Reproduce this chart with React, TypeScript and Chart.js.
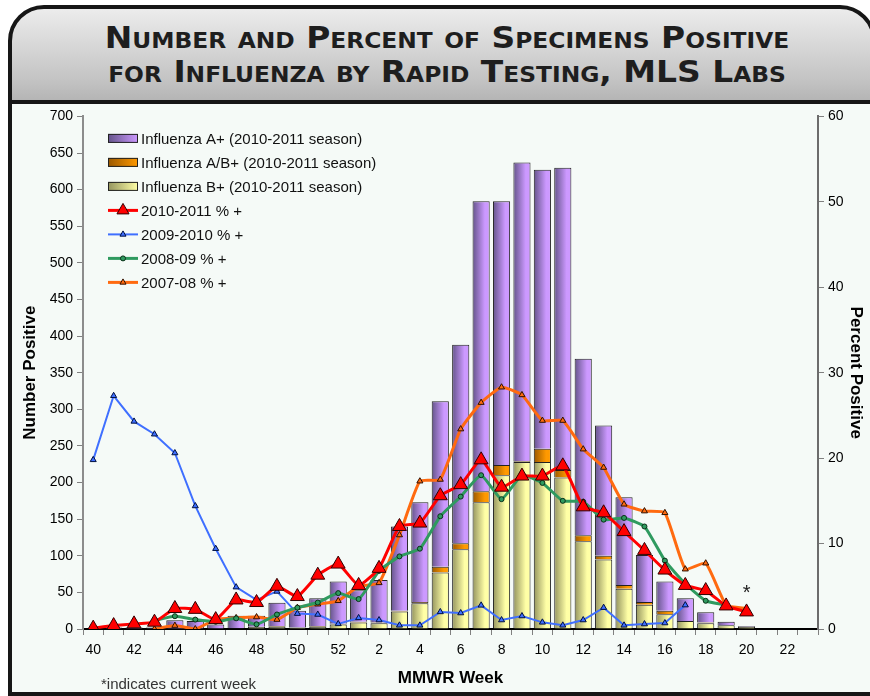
import React, { useEffect, useRef } from 'react';
import { Chart, registerables } from 'chart.js';

Chart.register(...registerables);

// ---------- data ----------
const weeks = ['40','41','42','43','44','45','46','47','48','49','50','51','52','1','2','3','4','5','6','7','8','9','10','11','12','13','14','15','16','17','18','19','20','21','22','23'];

const fluA = [1,2,2,2,12,11,6,17,15,32,23,38,58, 43,58,115,136,226,271,396,360,408,381,413,241,178,120,64,40,31,14,5,1, null,null,null];
const fluAB = [0,0,0,0,0,0,0,0,0,1,0,1,1, 1,1,1,2,8,8,15,14,1,18,10,8,5,5,4,5,0,1,0,0, null,null,null];
const fluB = [0,0,0,0,0,0,0,1,3,3,2,3,6, 9,8,24,35,77,109,173,210,228,228,207,120,95,55,33,20,11,8,5,3, null,null,null];

const pct2010_11 = [0.1,0.4,0.6,0.8,2.4,2.3,1.1,3.4,3.1,5.0,3.8,6.3,7.6, 5.1,7.1,12.0,12.4,15.6,16.9,19.8,16.6,17.9,17.9,19.1,14.3,13.6,11.4,9.2,6.9,5.1,4.5,2.7,2.0, null,null,null];
const pct2009_10 = [19.8,27.3,24.3,22.8,20.6,14.4,9.4,4.9,3.4,4.4,1.8,1.7,0.6, 1.3,1.05,0.43,0.43,2.0,1.87,2.77,1.05,1.52,0.78,0.43,1.05,2.5,0.43,0.58,0.7,2.8, null,null,null,null,null,null];
const pct2008_09 = [null,null,null,1.0,1.5,1.1,0.85,1.25,0.55,1.7,2.5,3.1,4.2, 3.5,6.8,8.5,9.4,13.2,15.5,18.0,15.2,18.0,17.1,15.0,14.9,12.8,13.0,12.0,8.0,5.3,3.3,2.8, null,null,null,null];
const pct2007_08 = [null,null,null,0,0.4,0,1.1,1.3,1.4,1.1,2.5,2.9,3.3, 5.0,5.4,11.0,17.3,17.5,23.4,26.5,28.3,27.4,24.4,24.4,21.05,18.9,14.6,13.8,13.6,7.0,7.7,2.8,2.4, null,null,null];

const currentWeek = '20';

const seriesLabels = [
  'Influenza A+ (2010-2011 season)',
  'Influenza A/B+ (2010-2011 season)',
  'Influenza B+ (2010-2011 season)',
  '2010-2011 % +',
  '2009-2010 % +',
  '2008-09 % +',
  '2007-08 % +',
];

const FONT = '"Liberation Sans", Arial, Helvetica, sans-serif';

const PURPLE = ['#64548a', '#cc99ff'];
const ORANGE = ['#9a5800', '#ff9900'];
const YELLOW = ['#94945e', '#ffffa6'];

const grad = (colors: string[]) => (ctx: any) => {
  const chart = ctx.chart;
  const xs = chart.scales && chart.scales.x;
  if (!chart.chartArea || !xs || ctx.dataIndex == null) return colors[1];
  const x = xs.getPixelForValue(ctx.dataIndex);
  const w = (xs.width / weeks.length) * 0.84;
  const g = chart.ctx.createLinearGradient(x - w / 2, 0, x + w / 2, 0);
  g.addColorStop(0, colors[0]);
  g.addColorStop(0.72, colors[1]);
  g.addColorStop(1, colors[1]);
  return g;
};

function drawMarker(ctx: CanvasRenderingContext2D, style: string, x: number, y: number, r: number, fill: string, stroke: string) {
  ctx.beginPath();
  if (style === 'triangle') {
    let rad = 0;
    const t = (2 * Math.PI) / 3;
    ctx.moveTo(x + Math.sin(rad) * r, y - Math.cos(rad) * r);
    rad += t;
    ctx.lineTo(x + Math.sin(rad) * r, y - Math.cos(rad) * r);
    rad += t;
    ctx.lineTo(x + Math.sin(rad) * r, y - Math.cos(rad) * r);
    ctx.closePath();
  } else {
    ctx.arc(x, y, r, 0, Math.PI * 2);
  }
  ctx.fillStyle = fill;
  ctx.fill();
  ctx.strokeStyle = stroke;
  ctx.lineWidth = 1;
  ctx.stroke();
}

const legendItems = [
  { kind: 'box', colors: PURPLE },
  { kind: 'box', colors: ORANGE },
  { kind: 'box', colors: YELLOW },
  { kind: 'line', color: '#ff0000', width: 3, style: 'triangle', r: 7, fill: '#ff0000', stroke: '#300000' },
  { kind: 'line', color: '#3f6fff', width: 2, style: 'triangle', r: 3.5, fill: '#3f6fff', stroke: '#001040' },
  { kind: 'line', color: '#2f9a5f', width: 3, style: 'circle', r: 2.5, fill: '#2f9a5f', stroke: '#0a3018' },
  { kind: 'line', color: '#ff6a10', width: 3, style: 'triangle', r: 3.5, fill: '#ff6a10', stroke: '#301000' },
];

const overlayPlugin = {
  id: 'overlay',
  afterDraw(chart: any) {
    const { ctx, chartArea } = chart;
    const x0 = chartArea.left + 25;
    const y0 = chartArea.top + 22;
    const step = 24;
    ctx.save();
    ctx.font = `15px ${FONT}`;
    ctx.textBaseline = 'middle';
    ctx.textAlign = 'left';
    legendItems.forEach((item: any, k: number) => {
      const cy = y0 + k * step;
      if (item.kind === 'box') {
        const g = ctx.createLinearGradient(x0, 0, x0 + 30, 0);
        g.addColorStop(0, item.colors[0]);
        g.addColorStop(1, item.colors[1]);
        ctx.fillStyle = g;
        ctx.fillRect(x0, cy - 4.5, 30, 9);
        ctx.strokeStyle = '#222';
        ctx.lineWidth = 1;
        ctx.strokeRect(x0 + 0.5, cy - 4, 29, 8);
      } else {
        ctx.strokeStyle = item.color;
        ctx.lineWidth = item.width;
        ctx.beginPath();
        ctx.moveTo(x0, cy);
        ctx.lineTo(x0 + 30, cy);
        ctx.stroke();
        drawMarker(ctx, item.style, x0 + 15, cy, item.r, item.fill, item.stroke);
      }
      ctx.fillStyle = '#111';
      ctx.fillText(seriesLabels[k], x0 + 33, cy + 1);
    });
    const idx = weeks.indexOf(currentWeek);
    const v = pct2010_11[idx];
    if (v != null) {
      ctx.font = `20px ${FONT}`;
      ctx.textAlign = 'center';
      ctx.fillStyle = '#222';
      ctx.fillText('*', chart.scales.x.getPixelForValue(idx), chart.scales.y1.getPixelForValue(v) - 18);
    }
    ctx.restore();
  },
};

export default function App() {
  const ref = useRef<HTMLCanvasElement>(null);

  useEffect(() => {
    const canvas = ref.current;
    if (!canvas) return;
    Chart.defaults.font.family = FONT;
    Chart.defaults.color = '#000';
    const lineCommon = { type: 'line' as const, yAxisID: 'y1', fill: false, spanGaps: false };
    const chart = new Chart(canvas, {
      type: 'bar',
      data: {
        labels: weeks,
        datasets: [
          { type: 'bar', label: seriesLabels[2], data: fluB, backgroundColor: grad(YELLOW), borderColor: '#222', borderWidth: 1, yAxisID: 'y', order: 10, categoryPercentage: 0.84, barPercentage: 1 } as any,
          { type: 'bar', label: seriesLabels[1], data: fluAB, backgroundColor: grad(ORANGE), borderColor: '#222', borderWidth: 1, yAxisID: 'y', order: 10, categoryPercentage: 0.84, barPercentage: 1 } as any,
          { type: 'bar', label: seriesLabels[0], data: fluA, backgroundColor: grad(PURPLE), borderColor: '#222', borderWidth: 1, yAxisID: 'y', order: 10, categoryPercentage: 0.84, barPercentage: 1 } as any,
          { ...lineCommon, label: seriesLabels[4], data: pct2009_10, borderColor: '#3f6fff', borderWidth: 2, tension: 0, pointStyle: 'triangle', pointRadius: 3.5, pointBackgroundColor: '#3f6fff', pointBorderColor: '#001040', pointBorderWidth: 1, order: 4 } as any,
          { ...lineCommon, label: seriesLabels[6], data: pct2007_08, borderColor: '#ff6a10', borderWidth: 3, tension: 0.15, pointStyle: 'triangle', pointRadius: 3.5, pointBackgroundColor: '#ff6a10', pointBorderColor: '#301000', pointBorderWidth: 1, order: 3 } as any,
          { ...lineCommon, label: seriesLabels[5], data: pct2008_09, borderColor: '#2f9a5f', borderWidth: 3, tension: 0.15, pointStyle: 'circle', pointRadius: 2.5, pointBackgroundColor: '#2f9a5f', pointBorderColor: '#0a3018', pointBorderWidth: 1, order: 2 } as any,
          { ...lineCommon, label: seriesLabels[3], data: pct2010_11, borderColor: '#ff0000', borderWidth: 3, tension: 0.15, pointStyle: 'triangle', pointRadius: 8, pointBackgroundColor: '#ff0000', pointBorderColor: '#300000', pointBorderWidth: 1, order: 1 } as any,
        ],
      },
      options: {
        responsive: false,
        animation: false,
        devicePixelRatio: 1,
        layout: { padding: { left: 4, top: 12, right: 0, bottom: 0 } },
        plugins: {
          legend: { display: false },
          tooltip: { enabled: false },
          title: { display: false },
        },
        scales: {
          x: {
            stacked: true,
            offset: true,
            grid: { offset: true, drawOnChartArea: false, tickLength: 6, color: '#808080', lineWidth: 1 },
            border: { color: '#000', width: 2 },
            ticks: {
              autoSkip: false, maxRotation: 0, minRotation: 0, padding: 7, color: '#000',
              font: { size: 14, family: FONT },
              callback: (_v: any, i: number) => (i % 2 === 0 ? weeks[i] : ''),
            },
            title: { display: true, text: 'MMWR Week', color: '#000', font: { size: 17, weight: 'bold', family: FONT }, padding: { top: 2, bottom: 7 } },
            afterFit: (s: any) => { s.height = 67; },
          },
          y: {
            stacked: true,
            position: 'left',
            min: 0,
            max: 700,
            ticks: { stepSize: 50, padding: 4, color: '#000', font: { size: 14, family: FONT } },
            grid: { drawOnChartArea: false, tickLength: 6, color: '#808080' },
            border: { color: '#8c8c8c', width: 2 },
            title: { display: true, text: 'Number Positive', color: '#000', font: { size: 17, weight: 'bold', family: FONT }, padding: { top: 4, bottom: 4 } },
            afterFit: (s: any) => { s.width = 67; },
          },
          y1: {
            position: 'right',
            min: 0,
            max: 60,
            ticks: { stepSize: 10, padding: 4, color: '#000', font: { size: 14, family: FONT } },
            grid: { drawOnChartArea: false, tickLength: 6, color: '#808080' },
            border: { color: '#6c6c6c', width: 2 },
            title: { display: true, text: 'Percent Positive', color: '#000', font: { size: 17, weight: 'bold', family: FONT }, padding: { top: 4, bottom: 4 } },
            afterFit: (s: any) => { s.width = 52; },
          },
        },
      } as any,
      plugins: [overlayPlugin],
    });
    return () => chart.destroy();
  }, []);

  return (
    <div style={{ position: 'fixed', left: 0, top: 0, width: 870, height: 696, overflow: 'hidden', background: '#ffffff' }}>
      <div
        style={{
          position: 'absolute', left: 8, top: 5, width: 868, height: 720, boxSizing: 'border-box',
          border: '4px solid #161616', borderRadius: '36px 36px 0 0',
          background: 'linear-gradient(to bottom, #ececec 0px, #c4c4c4 70px, #b2b2b2 95px, #b2b2b2 100px)',
          overflow: 'hidden',
        }}
      >
        <div style={{ position: 'absolute', left: 0, right: 0, top: 91, height: 4, background: '#161616' }} />
        <div style={{ position: 'absolute', left: 0, right: 0, top: 95, bottom: 0, background: '#f5faf7' }} />
      </div>
      <div
        style={{
          position: 'absolute', left: 0, width: 894, top: 20, textAlign: 'center',
          fontFamily: '"Liberation Sans Narrow", "DejaVu Sans Condensed", "Arial Narrow", sans-serif',
          fontWeight: 'bold', fontVariant: 'small-caps', fontSize: 31, lineHeight: '34px', color: '#1e1e1e',
          transform: 'scaleX(1.18)', transformOrigin: '447px 0px',
        }}
      >
        <div>Number and Percent of Specimens Positive</div>
        <div>for Influenza by Rapid Testing, MLS Labs</div>
      </div>
      <canvas ref={ref} width={858} height={592} style={{ position: 'absolute', left: 12, top: 104, width: 858, height: 592 }} />
      <div style={{ position: 'absolute', left: 101, top: 675, fontFamily: FONT, fontSize: 15, lineHeight: '17px', color: '#333', whiteSpace: 'nowrap' }}>
        *indicates current week
      </div>
      <div style={{ position: 'absolute', left: 8, width: 870, top: 692, height: 4, background: '#161616' }} />
    </div>
  );
}
